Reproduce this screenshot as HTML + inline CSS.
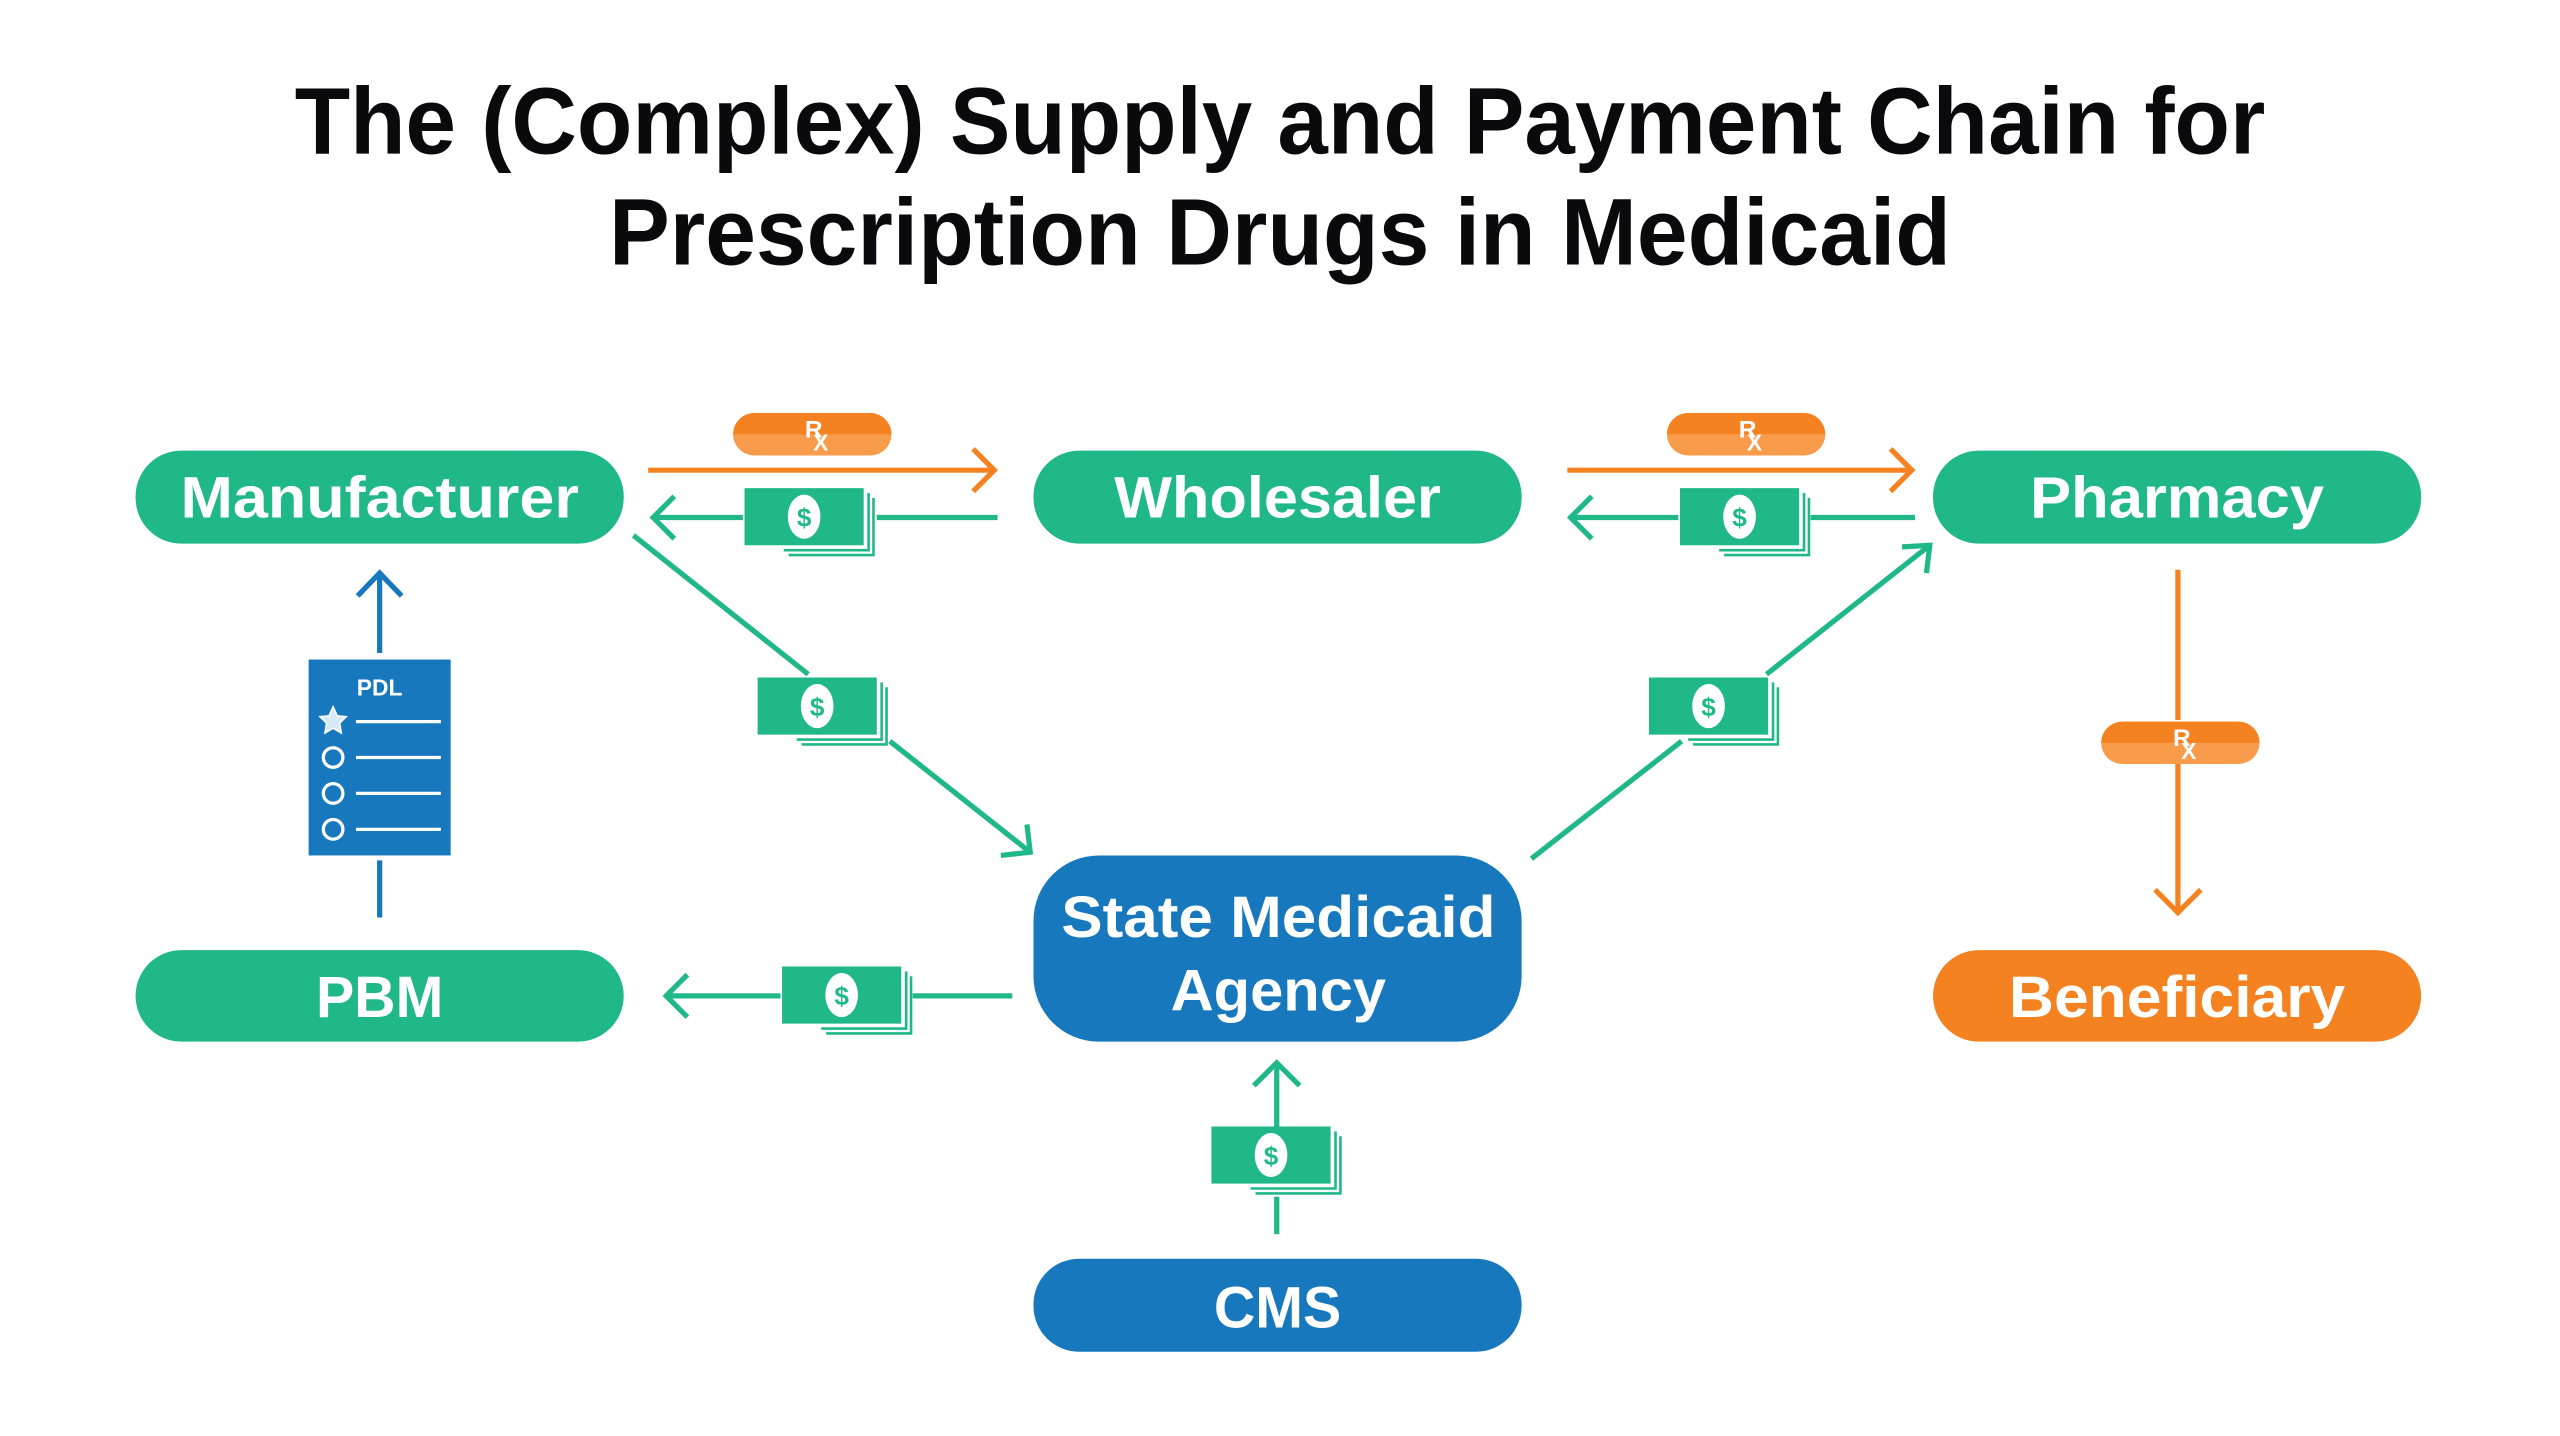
<!DOCTYPE html>
<html><head><meta charset="utf-8"><style>
html,body{margin:0;padding:0;background:#fff;}
svg{display:block;}
text{font-family:"Liberation Sans",sans-serif;font-weight:bold;}
</style></head><body>
<svg width="2560" height="1436" viewBox="0 0 1568 879.6" xmlns="http://www.w3.org/2000/svg">
<defs>
<g id="money">
  <polyline points="76,3 76,38 24,38" fill="none" stroke="#21b887" stroke-width="1.6"/>
  <polyline points="79,6 79,41 27,41" fill="none" stroke="#21b887" stroke-width="1.6"/>
  <rect x="0" y="0" width="73" height="35" fill="#21b887"/>
  <ellipse cx="36.5" cy="17.5" rx="10" ry="13.5" fill="#fff"/>
  <text x="36.5" y="23.5" font-size="16" fill="#21b887" text-anchor="middle">$</text>
</g>
<g id="pill">
  <rect x="0" y="0" width="97" height="26" rx="13" fill="#f89b4a"/>
  <path d="M13,0 H84 A13,13 0 0 1 97,13 H0 A13,13 0 0 1 13,0Z" fill="#f58220"/>
  <text x="44" y="15" font-size="15" fill="#fff">R</text>
  <text x="49" y="23" font-size="14" fill="#fff">X</text>
</g>
</defs>

<text x="784" y="94" font-size="58" fill="#0a0a0c" text-anchor="middle" textLength="1207" lengthAdjust="spacingAndGlyphs">The (Complex) Supply and Payment Chain for</text>
<text x="784" y="162" font-size="58" fill="#0a0a0c" text-anchor="middle" textLength="822" lengthAdjust="spacingAndGlyphs">Prescription Drugs in Medicaid</text>

<!-- boxes -->
<g font-size="36" fill="#fff" text-anchor="middle">
<rect x="83" y="276" width="299" height="57" rx="28" fill="#21b887"/>
<text x="232.5" y="317" fill="#fff" textLength="244" lengthAdjust="spacingAndGlyphs">Manufacturer</text>
<rect x="633" y="276" width="299" height="57" rx="28" fill="#21b887"/>
<text x="782.5" y="317" fill="#fff" textLength="200" lengthAdjust="spacingAndGlyphs">Wholesaler</text>
<rect x="1184" y="276" width="299" height="57" rx="28" fill="#21b887"/>
<text x="1333.5" y="317" fill="#fff" textLength="180" lengthAdjust="spacingAndGlyphs">Pharmacy</text>
<rect x="83" y="582" width="299" height="56" rx="28" fill="#21b887"/>
<text x="232.5" y="623" fill="#fff" textLength="78" lengthAdjust="spacingAndGlyphs">PBM</text>
<rect x="633" y="524" width="299" height="114" rx="40" fill="#1778be"/>
<text x="783" y="574" fill="#fff" textLength="266" lengthAdjust="spacingAndGlyphs">State Medicaid</text>
<text x="783" y="619" fill="#fff" textLength="132" lengthAdjust="spacingAndGlyphs">Agency</text>
<rect x="1184" y="582" width="299" height="56" rx="28" fill="#f58220"/>
<text x="1333.5" y="623" fill="#fff" textLength="206" lengthAdjust="spacingAndGlyphs">Beneficiary</text>
<rect x="633" y="771" width="299" height="57" rx="28" fill="#1778be"/>
<text x="782.5" y="813" fill="#fff" textLength="78" lengthAdjust="spacingAndGlyphs">CMS</text>
</g>

<g fill="none" stroke-width="3.2">
<!-- Manufacturer -> Wholesaler (orange) -->
<line x1="397" y1="288" x2="609" y2="288" stroke="#f58220"/>
<polyline points="596,275 609,288 596,301" stroke="#f58220"/>
<!-- Wholesaler -> Manufacturer (green) -->
<line x1="611" y1="317" x2="537" y2="317" stroke="#21b887"/>
<line x1="455" y1="317" x2="401" y2="317" stroke="#21b887"/>
<polyline points="413,304 400,317 413,330" stroke="#21b887"/>
<!-- Wholesaler -> Pharmacy -->
<line x1="960" y1="288" x2="1171" y2="288" stroke="#f58220"/>
<polyline points="1158,275 1171,288 1158,301" stroke="#f58220"/>
<line x1="1173" y1="317" x2="1109" y2="317" stroke="#21b887"/>
<line x1="1028" y1="317" x2="963" y2="317" stroke="#21b887"/>
<polyline points="975,304 962,317 975,330" stroke="#21b887"/>
<!-- Manufacturer -> State -->
<line x1="388" y1="328" x2="495" y2="413" stroke="#21b887"/>
<line x1="545" y1="454" x2="631" y2="522" stroke="#21b887"/>
<polyline points="629,505 631,522 613,524" stroke="#21b887"/>
<!-- State -> Pharmacy -->
<line x1="938" y1="526" x2="1030" y2="454" stroke="#21b887"/>
<line x1="1082" y1="413" x2="1182" y2="334" stroke="#21b887"/>
<polyline points="1165,335 1182,334 1180,351" stroke="#21b887"/>
<!-- State -> PBM -->
<line x1="620" y1="610" x2="559" y2="610" stroke="#21b887"/>
<line x1="478" y1="610" x2="408" y2="610" stroke="#21b887"/>
<polyline points="421,597 408,610 421,623" stroke="#21b887"/>
<!-- CMS -> State -->
<line x1="782" y1="756" x2="782" y2="733" stroke="#21b887"/>
<line x1="782" y1="690" x2="782" y2="651" stroke="#21b887"/>
<polyline points="768,665 782,651 796,665" stroke="#21b887"/>
<!-- Pharmacy -> Beneficiary -->
<line x1="1334" y1="349" x2="1334" y2="441" stroke="#f58220"/>
<line x1="1334" y1="468" x2="1334" y2="559" stroke="#f58220"/>
<polyline points="1320,545 1334,559 1348,545" stroke="#f58220"/>
<!-- PBM -> Manufacturer -->
<line x1="232.5" y1="562" x2="232.5" y2="527" stroke="#1778be"/>
<line x1="232.5" y1="400" x2="232.5" y2="351" stroke="#1778be"/>
<polyline points="219,365 232.5,351 246,365" stroke="#1778be"/>
</g>

<use href="#pill" x="449" y="253"/>
<use href="#pill" x="1021" y="253"/>
<use href="#pill" x="1287" y="442"/>

<use href="#money" x="456" y="299"/>
<use href="#money" x="1029" y="299"/>
<use href="#money" x="464" y="415"/>
<use href="#money" x="1010" y="415"/>
<use href="#money" x="479" y="592"/>
<use href="#money" x="742" y="690"/>

<!-- PDL doc -->
<rect x="189" y="404" width="87" height="120" fill="#1778be"/>
<text x="232.5" y="426" font-size="14" fill="#fff" text-anchor="middle">PDL</text>
<polygon points="204,433 206.5,438.5 212,439 208,443 209,449 204,446 199,449 200,443 196,439 201.5,438.5" fill="#d6e9f8" stroke="#fff" stroke-width="1"/>
<g stroke="#fff" stroke-width="2" fill="none">
<line x1="218" y1="442" x2="270" y2="442"/>
<circle cx="204" cy="464" r="6"/><line x1="218" y1="464" x2="270" y2="464"/>
<circle cx="204" cy="486" r="6"/><line x1="218" y1="486" x2="270" y2="486"/>
<circle cx="204" cy="508" r="6"/><line x1="218" y1="508" x2="270" y2="508"/>
</g>
</svg>
</body></html>
